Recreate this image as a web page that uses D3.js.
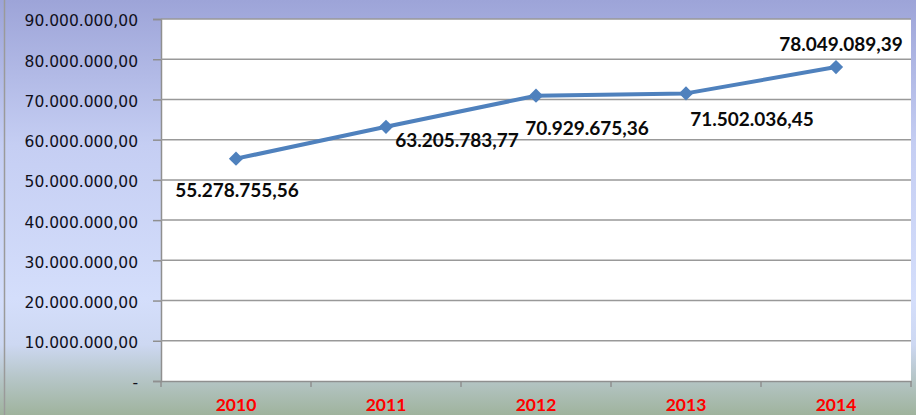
<!DOCTYPE html>
<html>
<head>
<meta charset="utf-8">
<script src="https://cdn.jsdelivr.net/npm/d3@7"></script>
<style>
  html, body { margin: 0; padding: 0; background: #fff; }
  svg { display: block; }
</style>
</head>
<body>
<svg id="chart" width="916" height="415"></svg>
<script>
const years = ["2010", "2011", "2012", "2013", "2014"];
const values = [55278755.56, 63205783.77, 70929675.36, 71502036.45, 78049089.39];
const yTicks = [0, 10000000, 20000000, 30000000, 40000000, 50000000, 60000000, 70000000, 80000000, 90000000];
// where each value label sits relative to its point
const labelOffsets = [[1, 38], [71, 20], [51, 39], [66, 33], [5, -16]];

const width = 916;
const height = 415;
const margin = { top: 19, right: 5, bottom: 34, left: 161 };

const svg = d3.select("#chart");

// background gradient
const defs = svg.append("defs");
const grad = defs.append("linearGradient")
  .attr("id", "bg")
  .attr("x1", 0).attr("y1", 0).attr("x2", 0).attr("y2", 1);
grad.append("stop").attr("offset", "0%").attr("stop-color", "#9da4d8");
grad.append("stop").attr("offset", "35%").attr("stop-color", "#c5cef3");
grad.append("stop").attr("offset", "72%").attr("stop-color", "#d4defb");
grad.append("stop").attr("offset", "83%").attr("stop-color", "#cdd8f2");
grad.append("stop").attr("offset", "91%").attr("stop-color", "#b6c6c8");
grad.append("stop").attr("offset", "100%").attr("stop-color", "#9fb39d");

svg.append("rect")
  .attr("width", width)
  .attr("height", height)
  .attr("fill", "url(#bg)");

svg.append("line")
  .attr("x1", 4.5).attr("x2", 4.5)
  .attr("y1", 0).attr("y2", height)
  .attr("stroke", "#9a9a9a")
  .attr("stroke-width", 1.5);

const x = d3.scaleBand()
  .domain(years)
  .range([margin.left, width - margin.right]);

const y = d3.scaleLinear()
  .domain([0, 90000000])
  .range([height - margin.bottom, margin.top]);

// plot area
svg.append("rect")
  .attr("x", margin.left)
  .attr("y", margin.top)
  .attr("width", width - margin.right - margin.left)
  .attr("height", height - margin.bottom - margin.top)
  .attr("fill", "#ffffff");

const fmt = (v) => {
  if (v === 0) return "-";
  const s = d3.format(",.2f")(v);
  return s.replace(/,/g, "#").replace(".", ",").replace(/#/g, ".");
};

// y axis with gridlines
const yAxis = svg.append("g")
  .attr("transform", `translate(${margin.left},0)`)
  .call(d3.axisLeft(y)
    .tickValues(yTicks)
    .tickSize(8)
    .tickPadding(15)
    .tickFormat(fmt));
yAxis.select(".domain").attr("stroke", "#8f8f8f").attr("stroke-width", 1.5);
yAxis.selectAll(".tick line").attr("stroke", "#8f8f8f").attr("stroke-width", 1.5);
yAxis.selectAll(".tick text")
  .attr("font-family", "DejaVu Sans, sans-serif")
  .attr("font-size", "15.5px")
  .attr("fill", "#10101c")
  .attr("dy", "0.45em");

svg.append("g")
  .selectAll("line")
  .data(yTicks.filter((t) => t > 0))
  .enter()
  .append("line")
  .attr("x1", margin.left)
  .attr("x2", width - margin.right)
  .attr("y1", (d) => y(d))
  .attr("y2", (d) => y(d))
  .attr("stroke", "#999999")
  .attr("stroke-width", 1.5);

// x axis
const xAxis = svg.append("g")
  .attr("transform", `translate(0,${height - margin.bottom})`)
  .call(d3.axisBottom(x).tickSize(0).tickPadding(18));
xAxis.select(".domain").attr("stroke", "#8f8f8f").attr("stroke-width", 1.5);
xAxis.selectAll(".tick text")
  .attr("font-family", "Lato, sans-serif")
  .attr("font-weight", "bold")
  .attr("font-size", "17.5px")
  .attr("fill", "#ff0000");

const edges = years.map((d) => x(d)).concat([width - margin.right]);
xAxis.selectAll(".edge")
  .data(edges)
  .enter()
  .append("line")
  .attr("class", "edge")
  .attr("x1", (d) => d)
  .attr("x2", (d) => d)
  .attr("y1", 0)
  .attr("y2", 6)
  .attr("stroke", "#8f8f8f")
  .attr("stroke-width", 1.5);

// line series
const pts = years.map((yr, i) => ({ yr: yr, v: values[i], i: i }));
const line = d3.line()
  .x((d) => x(d.yr) + x.bandwidth() / 2)
  .y((d) => y(d.v));

svg.append("path")
  .datum(pts)
  .attr("d", line)
  .attr("fill", "none")
  .attr("stroke", "#4f81bd")
  .attr("stroke-width", 4)
  .attr("stroke-linejoin", "round");

svg.selectAll(".marker")
  .data(pts)
  .enter()
  .append("path")
  .attr("class", "marker")
  .attr("d", d3.symbol().type(d3.symbolDiamond2).size(130))
  .attr("transform", (d) => `translate(${x(d.yr) + x.bandwidth() / 2},${y(d.v)})`)
  .attr("fill", "#4f81bd");

svg.selectAll(".vlabel")
  .data(pts)
  .enter()
  .append("text")
  .attr("class", "vlabel")
  .attr("x", (d) => x(d.yr) + x.bandwidth() / 2 + labelOffsets[d.i][0])
  .attr("y", (d) => y(d.v) + labelOffsets[d.i][1])
  .attr("text-anchor", "middle")
  .attr("font-family", "Lato, sans-serif")
  .attr("font-weight", "bold")
  .attr("font-size", "19px")
  .attr("fill", "#0a0a0a")
  .text((d) => fmt(d.v));
</script>
</body>
</html>
